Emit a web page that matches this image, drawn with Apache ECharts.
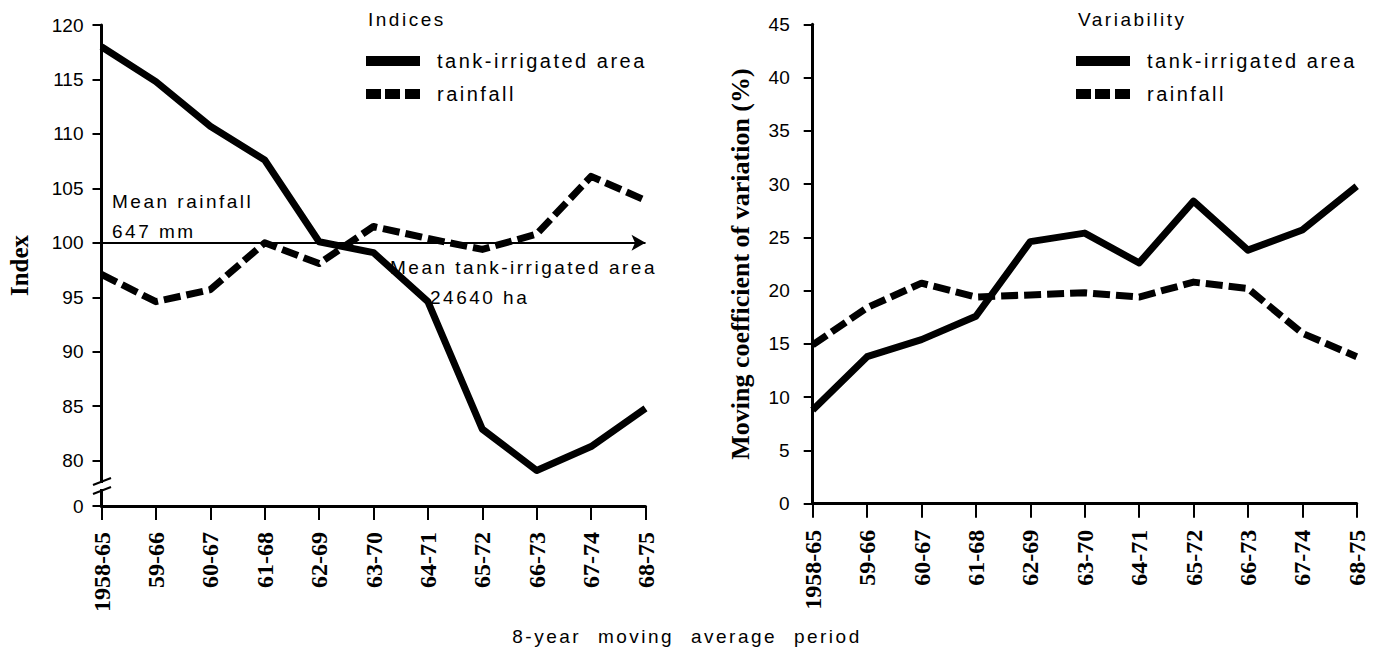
<!DOCTYPE html>
<html>
<head>
<meta charset="utf-8">
<script src="https://cdn.jsdelivr.net/npm/echarts@6/dist/echarts.min.js"></script>
<style>
  html, body { margin: 0; padding: 0; background: #fff; }
  #main { width: 1385px; height: 654px; }
  /* the figure's captions are set with wide letter spacing */
  #main text[style*="Liberation Sans"] { letter-spacing: 2.5px; }
  #main text[style*="wide"] { word-spacing: 9px; }
</style>
</head>
<body>
<div id="main"></div>
<script>
// 8-year moving average periods
const periods = ['1958-65', '59-66', '60-67', '61-68', '62-69', '63-70', '64-71', '65-72', '66-73', '67-74', '68-75']

// left panel: indices (mean = 100)
const tankIndex = [118.0, 114.8, 110.7, 107.6, 100.1, 99.1, 94.6, 82.9, 79.1, 81.3, 84.8]
const rainIndex = [97.1, 94.6, 95.7, 100.0, 98.1, 101.5, 100.4, 99.4, 100.8, 106.1, 103.9]
const meanIndex = 100

// right panel: moving coefficient of variation (%)
const tankCV = [8.8, 13.8, 15.4, 17.6, 24.6, 25.4, 22.6, 28.4, 23.8, 25.7, 29.8]
const rainCV = [14.9, 18.4, 20.7, 19.4, 19.6, 19.8, 19.4, 20.8, 20.2, 16.0, 13.8]

// left axis is broken between 0 and 80: bottom of the axis stands for 0
const indexMin = 75.84
const indexMax = 120
const cvTicks = { min: 0, max: 45, interval: 5 }

const seriesNames = ['tank-irrigated area', 'rainfall']

const tickFont = 'Arial'
const spacedFont = 'Liberation Sans'
const serif = 'Liberation Serif'

const chart = echarts.init(document.getElementById('main'), null, { renderer: 'svg' })

const xAxisFor = (gridIndex) => ({
  gridIndex: gridIndex,
  type: 'category',
  data: periods,
  boundaryGap: false,
  axisLine: { lineStyle: { color: '#000', width: 3 } },
  axisTick: { show: true, length: 14, lineStyle: { color: '#000', width: 2 } },
  axisLabel: {
    rotate: 90, margin: 26, interval: 0, color: '#000',
    fontFamily: serif, fontWeight: 'bold', fontSize: 24
  },
  splitLine: { show: false }
})

const yAxisCommon = {
  type: 'value',
  nameLocation: 'middle',
  nameRotate: 90,
  axisLine: { show: true, lineStyle: { color: '#000', width: 3 } },
  axisTick: { show: true, length: 9, lineStyle: { color: '#000', width: 2 } },
  splitLine: { show: false }
}

const lineSeries = (name, data, axisIndex, dashed) => ({
  name: name,
  type: 'line',
  xAxisIndex: axisIndex,
  yAxisIndex: axisIndex,
  data: data,
  symbol: 'none',
  silent: true,
  lineStyle: { color: '#000', width: 7, type: dashed ? [17, 6] : 'solid', join: 'round' },
  itemStyle: { color: '#000' }
})

// legend keys drawn as a thick bar and a row of three dashes
const legendFor = (left) => ({
  left: left,
  top: 51,
  orient: 'vertical',
  padding: 0,
  itemWidth: 54,
  itemHeight: 10,
  itemGap: 13,
  selectedMode: false,
  data: [
    { name: seriesNames[0], icon: 'rect' },
    { name: seriesNames[1], icon: 'path://M0,0H15V10H0Z M19,0H34V10H19Z M39,0H54V10H39Z' }
  ],
  itemStyle: { color: '#000' },
  textStyle: { fontFamily: spacedFont, fontSize: 20, color: '#000', padding: [0, 0, 0, 12], lineHeight: 20 }
})

const caption = (text, x, y, align, family) => ({
  type: 'text',
  x: x,
  y: y,
  silent: true,
  style: {
    text: text,
    fill: '#000',
    fontFamily: family || spacedFont,
    fontSize: 19,
    align: align || 'left',
    verticalAlign: 'middle'
  }
})

const tankLeft = lineSeries(seriesNames[0], tankIndex, 0, false)
tankLeft.markLine = {
  silent: true,
  symbol: ['none', 'arrow'],
  symbolSize: [12, 14],
  label: { show: false },
  lineStyle: { color: '#000', width: 2, type: 'solid' },
  data: [{ yAxis: meanIndex }]
}

chart.setOption({
  animation: false,
  backgroundColor: '#fff',
  grid: [
    { left: 101.5, right: 739.5, top: 25, bottom: 148 },
    { left: 812.7, right: 28.3, top: 24.3, bottom: 150.3 }
  ],
  xAxis: [xAxisFor(0), xAxisFor(1)],
  yAxis: [
    Object.assign({}, yAxisCommon, {
      gridIndex: 0,
      min: indexMin,
      max: indexMax,
      splitNumber: 9,
      name: 'Index',
      nameGap: 70,
      nameTextStyle: { fontFamily: serif, fontWeight: 'bold', fontSize: 25, color: '#000' },
      axisLabel: {
        margin: 18, color: '#000', fontFamily: tickFont, fontSize: 19,
        formatter: (v) => (v < 79 ? '0' : String(v))
      }
    }),
    Object.assign({}, yAxisCommon, {
      gridIndex: 1,
      min: cvTicks.min,
      max: cvTicks.max,
      interval: cvTicks.interval,
      name: 'Moving coefficient of variation (%)',
      nameGap: 59,
      nameTextStyle: { fontFamily: serif, fontWeight: 'bold', fontSize: 26, color: '#000' },
      axisLabel: { margin: 23, color: '#000', fontFamily: tickFont, fontSize: 19 }
    })
  ],
  legend: [legendFor(366), legendFor(1076)],
  series: [
    tankLeft,
    lineSeries(seriesNames[1], rainIndex, 0, true),
    lineSeries(seriesNames[0], tankCV, 1, false),
    lineSeries(seriesNames[1], rainCV, 1, true)
  ],
  graphic: [
    caption('Indices', 368, 19),
    caption('Variability', 1078, 19),
    caption('Mean rainfall', 112, 201),
    caption('647 mm', 112, 231),
    caption('Mean tank-irrigated area', 390, 267),
    caption('24640 ha', 430, 297),
    caption('8-year moving average period', 687, 636, 'center', 'Liberation Sans, wide'),
    // break marks on the left axis
    { type: 'rect', silent: true, z: 10, shape: { x: 97, y: 483, width: 10, height: 6 }, style: { fill: '#fff' } },
    { type: 'line', silent: true, z: 11, shape: { x1: 93, y1: 485, x2: 111, y2: 478 }, style: { stroke: '#000', lineWidth: 2 } },
    { type: 'line', silent: true, z: 11, shape: { x1: 93, y1: 494, x2: 111, y2: 487 }, style: { stroke: '#000', lineWidth: 2 } }
  ]
})
</script>
</body>
</html>
